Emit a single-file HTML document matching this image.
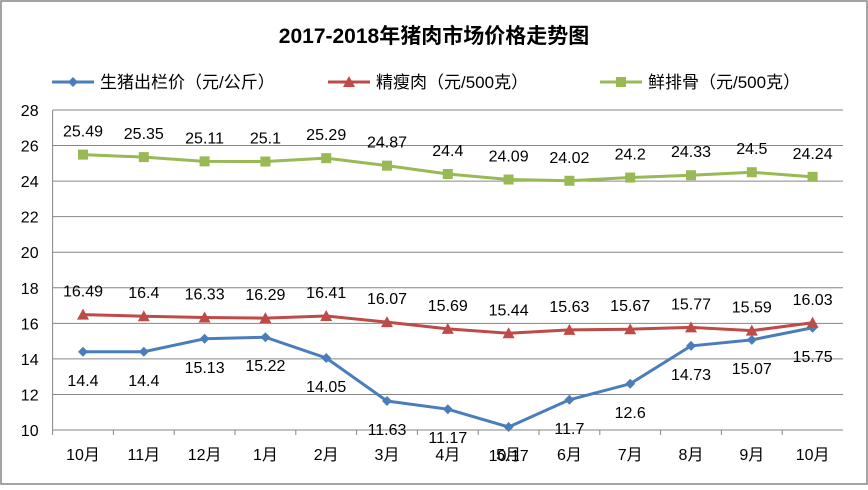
<!DOCTYPE html>
<html><head><meta charset="utf-8"><style>
body{margin:0;background:#fff}
svg text{font-family:"Liberation Sans","Noto Sans CJK SC",sans-serif}
</style></head><body>
<svg id="c" width="868" height="485" xmlns="http://www.w3.org/2000/svg">
<rect x="1" y="1" width="866" height="483" fill="#fff" stroke="#868686" stroke-width="1.5"/>
<text x="434" y="43" text-anchor="middle" font-size="21" font-weight="bold">2017-2018年猪肉市场价格走势图</text>
<g id="legend"></g>
<g id="grid"></g><g id="axes"></g><g id="series"></g>
</svg>
<script>
const categories=["10月","11月","12月","1月","2月","3月","4月","5月","6月","7月","8月","9月","10月"];
const seriesNames=["生猪出栏价（元/公斤）","精瘦肉（元/500克）","鲜排骨（元/500克）"];
const pork=[14.4,14.4,15.13,15.22,14.05,11.63,11.17,10.17,11.7,12.6,14.73,15.07,15.75];
const lean=[16.49,16.4,16.33,16.29,16.41,16.07,15.69,15.44,15.63,15.67,15.77,15.59,16.03];
const ribs=[25.49,25.35,25.11,25.1,25.29,24.87,24.4,24.09,24.02,24.2,24.33,24.5,24.24];
const yTicks=[10,12,14,16,18,20,22,24,26,28];
const NS="http://www.w3.org/2000/svg";
const svg=document.getElementById('c');
const L=52.6,R=843,T=110,B=430,yMin=10,yMax=28;
const step=(R-L)/categories.length;
const x=i=>L+step*(i+0.5);
const y=v=>B-(v-yMin)/(yMax-yMin)*(B-T);
function el(t,a,p){const e=document.createElementNS(NS,t);for(const k in a)e.setAttribute(k,a[k]);(p||svg).appendChild(e);return e;}
const grid=document.getElementById('grid'),axes=document.getElementById('axes'),ser=document.getElementById('series'),leg=document.getElementById('legend');
yTicks.forEach(t=>{
 const g=el('line',{x1:L,x2:R,y1:y(t),y2:y(t),stroke:'#868686','stroke-width':1},grid);
 
 
 const tx=el('text',{x:L-14,y:y(t)+6,'text-anchor':'end','font-size':16},axes);tx.textContent=t;
 
 
});
const ax=el('line',{x1:L,x2:L,y1:T,y2:B,stroke:'#868686'},axes);


categories.forEach((c,i)=>{
 const tx=el('text',{x:x(i),y:B+30,'text-anchor':'middle','font-size':16},axes);tx.textContent=c;
 
 
 const tk=el('line',{x1:L+step*i,x2:L+step*i,y1:B,y2:B+5,stroke:'#868686'},axes);
 
 
});
function marker(type,cx,cy,col,p){
 let m;
 if(type==='d')m=el('polygon',{points:`${cx},${cy-5} ${cx+5},${cy} ${cx},${cy+5} ${cx-5},${cy}`,fill:col},p);
 else if(type==='t')m=el('polygon',{points:`${cx},${cy-6} ${cx+6},${cy+5} ${cx-6},${cy+5}`,fill:col},p);
 else m=el('rect',{x:cx-5,y:cy-5,width:10,height:10,fill:col},p);
 return m;
}
const defs=[[pork,'#4a7ebb','d',28,'pork'],[lean,'#be4b48','t',-18,'lean'],[ribs,'#98b954','s',-18,'ribs']];
defs.forEach(([d,col,mt,off,nm])=>{
 const g=el('g',{},ser);
 
 
 const pl=el('polyline',{points:d.map((v,i)=>x(i)+','+y(v)).join(' '),fill:'none',stroke:col,'stroke-width':3},g);
 
 
 d.forEach((v,i)=>{
  const m=marker(mt,x(i),y(v),col,g);
  
  
  const t=el('text',{x:x(i),y:y(v)+off+(off>0?6:0),'text-anchor':'middle','font-size':16},g);t.textContent=v;
  
  
 });
});
const lx=[52,328,600];
defs.forEach(([d,col,mt,off,nm],k)=>{
 const g=el('g',{},leg);
 
 
 el('line',{x1:lx[k],x2:lx[k]+42,y1:82,y2:82,stroke:col,'stroke-width':3},g);
 marker(mt,lx[k]+21,82,col,g);
 const t=el('text',{x:lx[k]+48,y:88,'font-size':17},g);t.textContent=seriesNames[k];
});
</script>
</body></html>
